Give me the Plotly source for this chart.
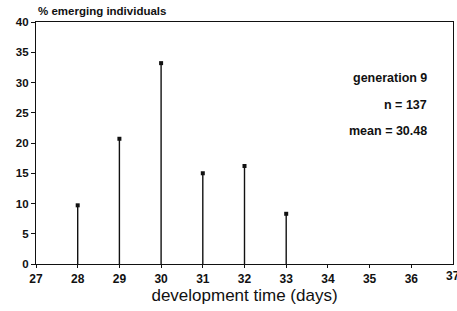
import plotly.graph_objects as go

days = [28, 29, 30, 31, 32, 33]
pct_emerging = [9.7, 20.7, 33.2, 15.0, 16.2, 8.3]
x_ticks = list(range(27, 38))
y_ticks = [0, 5, 10, 15, 20, 25, 30, 35, 40]
info_lines = ["generation 9", "n = 137", "mean = 30.48"]

stem_x, stem_y = [], []
for d, v in zip(days, pct_emerging):
    stem_x += [d, d, None]
    stem_y += [0, v, None]

fig = go.Figure()
fig.add_trace(go.Scatter(x=stem_x, y=stem_y, mode="lines",
                         line=dict(color="#111", width=1.4), hoverinfo="skip"))
fig.add_trace(go.Scatter(x=days, y=pct_emerging, mode="markers",
                         marker=dict(color="#111", size=4, symbol="square")))

font_b = "Liberation Sans"
fig.update_layout(
    width=457, height=311, showlegend=False,
    paper_bgcolor="white", plot_bgcolor="white",
    margin=dict(l=36, r=4, t=22, b=47),
    font=dict(family=font_b, color="#111"),
    xaxis=dict(range=[27, 37], tickvals=x_ticks[:-1], ticks="outside", ticklen=3,
               tickwidth=1, tickcolor="#111", showgrid=False, zeroline=False,
               showline=True, linecolor="#111", linewidth=1.3, mirror=True,
               automargin=False,
               tickfont=dict(size=12, family=font_b, weight="bold"),
               title=dict(text="development time (days)", standoff=4,
                          font=dict(size=17, family=font_b))),
    yaxis=dict(range=[0, 40], tickvals=y_ticks, ticks="outside", ticklen=4,
               tickwidth=1, tickcolor="#111", showgrid=False, zeroline=False,
               showline=True, linecolor="#111", linewidth=1.3, mirror=True,
               automargin=False,
               tickfont=dict(size=11.5, family=font_b, weight="bold")),
)
# last tick label, partly cut off at the right edge as in the reference
fig.add_annotation(text=str(x_ticks[-1]), x=x_ticks[-1], xref="x", y=0, yref="paper",
                   yanchor="top", yshift=-3, showarrow=False,
                   font=dict(size=12, family=font_b, weight="bold"))
fig.add_annotation(text="% emerging individuals", xref="paper", yref="paper",
                   x=0, y=1, xanchor="left", yanchor="bottom", yshift=3,
                   showarrow=False, font=dict(size=11.5, family=font_b, weight="bold"))
for i, t in enumerate(info_lines):
    fig.add_annotation(text=t, xref="paper", yref="paper",
                       x=(429 - 36) / 417, y=(264 - 78 - i * 26.5) / 242,
                       xanchor="right", yanchor="middle", showarrow=False,
                       font=dict(size=12.5, family=font_b, weight="bold"))

fig.write_html("out.html", config={"displayModeBar": False},
               post_script="document.body.style.margin='0';")
